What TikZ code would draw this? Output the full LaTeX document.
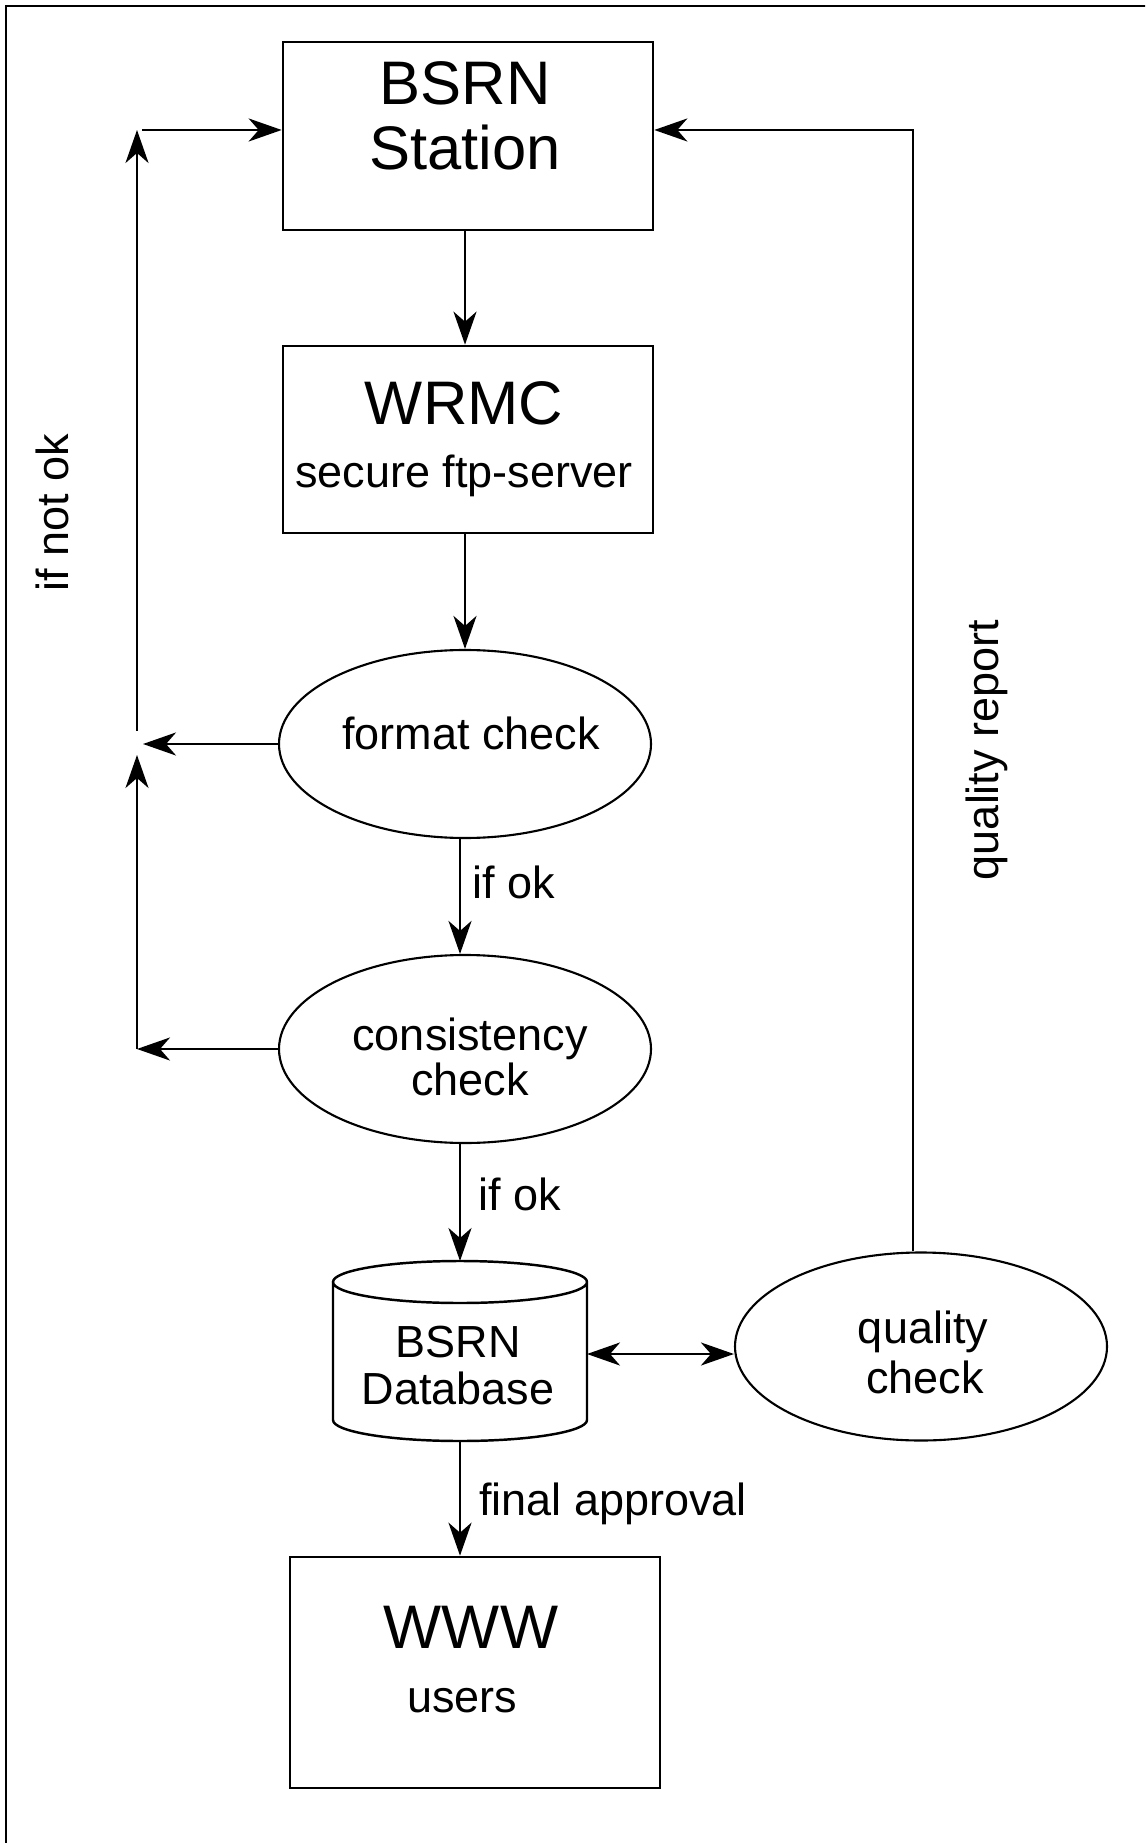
\documentclass[tikz,border=0pt]{standalone}
\usepackage{fontspec}
\setmainfont{Liberation Sans}
\usetikzlibrary{arrows.meta,shapes.geometric}

\begin{document}
\begin{tikzpicture}[
    tip/.tip={Stealth[length=3.3mm,width=2.3mm,inset=1mm]},
    box/.style={shape=rectangle, draw=black, line width=0.75pt, minimum width=3.7cm},
    oval/.style={shape=ellipse, draw=black, line width=0.6pt, minimum width=3.72cm, minimum height=1.88cm},
    arr/.style={-tip, line width=0.8pt},
    dblarr/.style={tip-tip, line width=0.8pt},
    big/.style={font=\fontsize{17.5}{20}\selectfont, anchor=base},
    small/.style={font=\fontsize{12.8}{15}\selectfont, anchor=base},
]
    \useasboundingbox (0,0) rectangle (11.45,-18.43);
    \clip (0,0) rectangle (11.45,-18.43);
    \draw[line width=0.8pt] (0.06,-0.06) rectangle (11.8,-18.8);

    % boxes, checks and database
    \node[box, minimum height=1.88cm] (station) at (4.68,-1.36) {};
    \node[box, minimum height=1.87cm] (wrmc) at (4.68,-4.395) {};
    \node[oval] (fcheck) at (4.65,-7.44) {};
    \node[oval] (ccheck) at (4.65,-10.49) {};
    \node[minimum width=2.54cm, minimum height=1.80cm, inner sep=0pt, outer sep=0pt] (db) at (4.60,-13.51) {};
    \draw[line width=0.7pt] ([yshift=-0.21cm]db.north west) -- ([yshift=0.21cm]db.south west)
        arc[start angle=180, end angle=360, x radius=1.27cm, y radius=0.21cm]
        -- ([yshift=-0.21cm]db.north east)
        arc[start angle=0, end angle=180, x radius=1.27cm, y radius=0.21cm]
        arc[start angle=180, end angle=360, x radius=1.27cm, y radius=0.21cm];
    \node[oval] (qcheck) at (9.21,-13.465) {};
    \node[box, minimum height=2.31cm] (www) at (4.75,-16.725) {};

    % texts
    \node[big] (stationA) at (4.65,-1.05) {BSRN};
    \node[big] (stationB) at (4.65,-1.70) {Station};
    \node[big] (wrmcA) at (4.64,-4.25) {WRMC};
    \node[small] (wrmcB) at (4.64,-4.88) {secure ftp-server};
    \node[small] (fcheckA) at (4.71,-7.49) {format check};
    \node[small] (ccheckA) at (4.70,-10.50) {consistency};
    \node[small] (ccheckB) at (4.70,-10.95) {check};
    \node[small] (dbA) at (4.58,-13.57) {BSRN};
    \node[small] (dbB) at (4.58,-14.04) {Database};
    \node[small] (qcheckA) at (9.23,-13.43) {quality};
    \node[small] (qcheckB) at (9.25,-13.93) {check};
    \node[big] (wwwA) at (4.71,-16.48) {WWW};
    \node[small] (wwwB) at (4.62,-17.12) {users};

    \node[small, anchor=base west] (okA) at (4.60,-8.98) {if ok};
    \node[small, anchor=base west] (okB) at (4.66,-12.10) {if ok};
    \node[small, anchor=base west] (final) at (4.67,-15.15) {final approval};
    \node[small, anchor=center, rotate=90] (notok) at (0.52,-5.13) {if not ok};
    \node[small, anchor=center, rotate=90] (qreport) at (9.87,-7.50) {quality report};

    % corners of the loops
    \coordinate (c1) at (1.43,-7.44);
    \coordinate (c2) at (1.37,-10.49);
    \coordinate (c3) at (1.37,-7.55);
    \coordinate (c4) at (1.37,-7.31);
    \coordinate (c5) at (1.37,-1.30);
    \coordinate (c6) at (1.42,-1.30);
    \coordinate (c7) at (9.13,-1.30);
    \coordinate (c8) at (5.87,-13.54);

    % main line
    \draw[arr] (station.south -| fcheck) -- (wrmc.north -| fcheck);
    \draw[arr] (wrmc.south -| fcheck) -- (fcheck.north);
    \draw[arr] (db.north |- fcheck.south) -- (db.north |- ccheck.north);
    \draw[arr] (db.north |- ccheck.south) -- (db.north);
    \draw[arr] (db.south) -- (db.south |- www.north);
    \draw[dblarr] (c8) -- (c8 -| qcheck.west);

    % back to the station
    \draw[arr] (fcheck.west) -- (c1);
    \draw[arr] (ccheck.west) -- (c2);
    \draw[arr] (c2) -- (c3);
    \draw[arr] (c4) -- (c5);
    \draw[arr] (c6) -- (c6 -| station.west);
    \draw[arr] (qcheck.north -| c7) -- (c7) -- (c7 -| station.east);

\end{tikzpicture}
\end{document}
